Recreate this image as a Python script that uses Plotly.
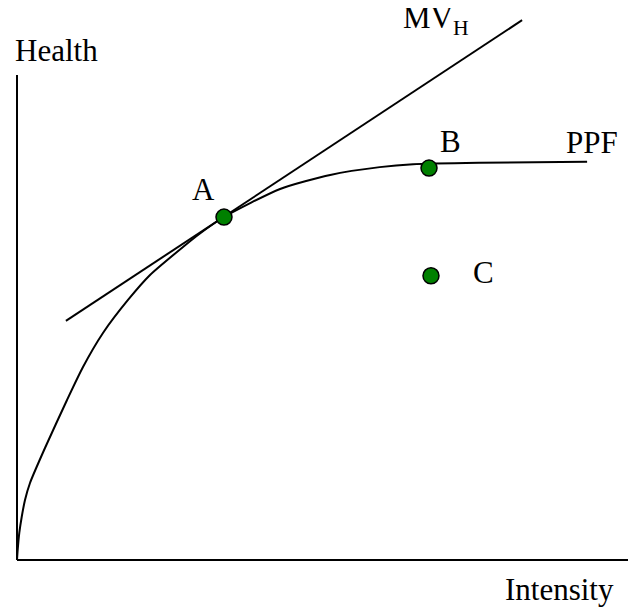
import plotly.graph_objects as go

# PPF curve (intensity, health)
ppf_x = [0.0, 0.011, 0.037, 0.076, 0.129, 0.210, 0.452, 0.808, 1.066, 1.389, 1.793, 2.149, 2.682, 2.956, 3.344, 4.25, 5.06, 5.86, 6.40, 7.48, 9.21]
ppf_y = [0.0, 0.206, 0.557, 0.887, 1.237, 1.588, 2.309, 3.299, 3.979, 4.680, 5.361, 5.876, 6.454, 6.732, 7.072, 7.65, 7.94, 8.10, 8.16, 8.19, 8.21]

# Tangent line MV_H
mv_x = [0.79, 8.16]
mv_y = [4.93, 11.13]

# Points
pt_names = ["A", "B", "C"]
pt_x = [3.344, 6.656, 6.688]
pt_y = [7.07, 8.08, 5.86]

# Label positions
lab_text = ["A", "B", "C", "PPF", "MV<sub>H</sub>", "Health", "Intensity"]
lab_x = [3.005, 7.01, 7.53, 9.29, 6.77, 0.63, 8.756]
lab_y = [7.64, 8.63, 5.93, 8.61, 11.14, 10.50, -0.60]

FONT = "Liberation Serif, Times New Roman, serif"

fig = go.Figure()
fig.add_trace(go.Scatter(x=ppf_x, y=ppf_y, mode="lines",
                         line=dict(color="black", width=2, shape="spline", smoothing=0.6),
                         hoverinfo="skip"))
fig.add_trace(go.Scatter(x=mv_x, y=mv_y, mode="lines",
                         line=dict(color="black", width=2), hoverinfo="skip"))
fig.add_trace(go.Scatter(x=pt_x, y=pt_y, mode="markers", text=pt_names,
                         marker=dict(size=16, color="#008000", line=dict(color="black", width=1.5))))

# Axes lines
fig.add_shape(type="line", x0=0, y0=0, x1=0, y1=10, line=dict(color="black", width=2))
fig.add_shape(type="line", x0=0, y0=0, x1=10.1, y1=0, line=dict(color="black", width=2))

for t, x, y in zip(lab_text, lab_x, lab_y):
    fig.add_annotation(x=x, y=y, text=t, showarrow=False, xanchor="center", yanchor="middle",
                       font=dict(family=FONT, size=31, color="black"))

# page body has an 8px margin, so the figure is 8px smaller on each side
fig.update_layout(
    width=628, height=603,
    margin=dict(l=0, r=0, t=0, b=0),
    paper_bgcolor="white", plot_bgcolor="white",
    showlegend=False,
    xaxis=dict(range=[-0.1454, 10], visible=False, fixedrange=True),
    yaxis=dict(range=[-1.0515, 11.381], visible=False, fixedrange=True),
)

fig.write_html("out.html")
